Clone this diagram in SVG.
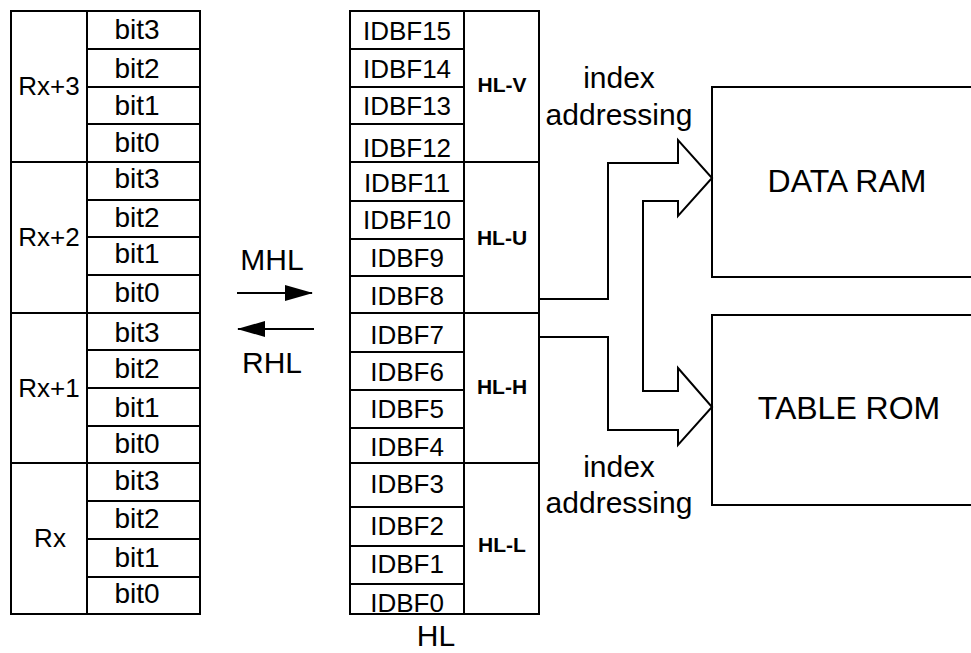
<svg xmlns="http://www.w3.org/2000/svg" width="971" height="653" viewBox="0 0 971 653">
<defs>
<style>
.ln{fill:none;stroke:#000;stroke-width:2}
.t{font-family:"Liberation Sans",Arial,sans-serif;fill:#000;text-anchor:middle}
.bit{font-size:28px}
.reg{font-size:26px}
.idb{font-size:26px}
.grp{font-size:21px;font-weight:bold}
.big{font-size:30px}
.box{font-size:32px}
</style>
<marker id="ah" markerUnits="userSpaceOnUse" markerWidth="28" markerHeight="16" refX="27" refY="8" orient="auto">
<path d="M0,0 L28,8 L0,16 z" fill="#000"/>
</marker>
</defs>
<rect width="971" height="653" fill="#fff"/>

<g id="registers">
<rect class="ln" x="11" y="11" width="189" height="603"/>
<path class="ln" d="M87,11 V614 M11,162 H200 M11,313 H200 M11,463 H200 M87,49 H200 M87,87 H200 M87,124 H200 M87,200 H200 M87,237 H200 M87,275 H200 M87,350 H200 M87,388 H200 M87,426 H200 M87,501 H200 M87,539 H200 M87,577 H200"/>
<text class="t reg" x="49" y="95">Rx+3</text>
<text class="t reg" x="49" y="246">Rx+2</text>
<text class="t reg" x="49" y="397">Rx+1</text>
<text class="t reg" x="50" y="547">Rx</text>
<text class="t bit" x="137" y="39">bit3</text>
<text class="t bit" x="137" y="78">bit2</text>
<text class="t bit" x="137" y="115">bit1</text>
<text class="t bit" x="137" y="152">bit0</text>
<text class="t bit" x="137" y="188">bit3</text>
<text class="t bit" x="137" y="227">bit2</text>
<text class="t bit" x="137" y="263">bit1</text>
<text class="t bit" x="137" y="302">bit0</text>
<text class="t bit" x="137" y="342">bit3</text>
<text class="t bit" x="137" y="378">bit2</text>
<text class="t bit" x="137" y="417">bit1</text>
<text class="t bit" x="137" y="453">bit0</text>
<text class="t bit" x="137" y="490">bit3</text>
<text class="t bit" x="137" y="528">bit2</text>
<text class="t bit" x="137" y="567">bit1</text>
<text class="t bit" x="137" y="603">bit0</text>
</g>

<g id="hl">
<rect class="ln" x="350" y="11" width="189" height="603"/>
<path class="ln" d="M464,11 V614 M350,162 H539 M350,313 H539 M350,463 H539 M350,49 H464 M350,87 H464 M350,124 H464 M350,201 H464 M350,239 H464 M350,276 H464 M350,352 H464 M350,390 H464 M350,428 H464 M350,507 H464 M350,546 H464 M350,584 H464"/>
<text class="t idb" x="407" y="40">IDBF15</text>
<text class="t idb" x="407" y="78">IDBF14</text>
<text class="t idb" x="407" y="115">IDBF13</text>
<text class="t idb" x="407" y="157">IDBF12</text>
<text class="t idb" x="407" y="192">IDBF11</text>
<text class="t idb" x="407" y="229">IDBF10</text>
<text class="t idb" x="407" y="267">IDBF9</text>
<text class="t idb" x="407" y="305">IDBF8</text>
<text class="t idb" x="407" y="344">IDBF7</text>
<text class="t idb" x="407" y="381">IDBF6</text>
<text class="t idb" x="407" y="418">IDBF5</text>
<text class="t idb" x="407" y="456">IDBF4</text>
<text class="t idb" x="407" y="493">IDBF3</text>
<text class="t idb" x="407" y="535">IDBF2</text>
<text class="t idb" x="407" y="573">IDBF1</text>
<text class="t idb" x="407" y="612">IDBF0</text>
<text class="t grp" x="502" y="92">HL-V</text>
<text class="t grp" x="502" y="245">HL-U</text>
<text class="t grp" x="502" y="394">HL-H</text>
<text class="t grp" x="502" y="552">HL-L</text>
<text class="t big" x="436" y="646">HL</text>
</g>

<g id="data-ram">
<path class="ln" d="M975,87 H712 V277 H975"/>
<text class="t box" x="847" y="192">DATA RAM</text>
</g>

<g id="table-rom">
<path class="ln" d="M975,315 H712 V505 H975"/>
<text class="t box" x="849" y="419">TABLE ROM</text>
</g>

<g id="connectors">
<line class="ln" x1="237" y1="293" x2="312" y2="293" stroke-width="2.5" marker-end="url(#ah)"/>
<line class="ln" x1="314" y1="329" x2="238" y2="329" stroke-width="2.5" marker-end="url(#ah)"/>
<path class="ln" d="M539,299 H608 V163 H678 V140 L712,178 L678,216 V201 H643 V391 H678 V368 L712,407 L678,445 V430 H608 V337 H539"/>
</g>

<g id="labels">
<text class="t big" x="272" y="270">MHL</text>
<text class="t big" x="272" y="373">RHL</text>
<text class="t big" x="619" y="88">index</text>
<text class="t big" x="619" y="125">addressing</text>
<text class="t big" x="619" y="477">index</text>
<text class="t big" x="619" y="513">addressing</text>
</g>
</svg>
